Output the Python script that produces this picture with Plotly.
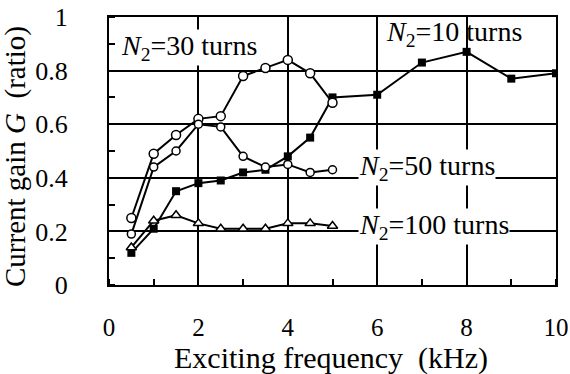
import plotly.graph_objects as go

# Data
freq_short = [0.5, 1, 1.5, 2, 2.5, 3, 3.5, 4, 4.5, 5]
freq_long = [0.5, 1, 1.5, 2, 2.5, 3, 3.5, 4, 4.5, 5, 6, 7, 8, 9, 10]
g_n10 = [0.12, 0.21, 0.35, 0.38, 0.39, 0.42, 0.43, 0.48, 0.55, 0.70, 0.71, 0.83, 0.87, 0.77, 0.79]
g_n30 = [0.25, 0.49, 0.56, 0.62, 0.63, 0.78, 0.81, 0.84, 0.79, 0.68]
g_n50 = [0.19, 0.44, 0.50, 0.60, 0.59, 0.48, 0.44, 0.45, 0.42, 0.43]
g_n100 = [0.14, 0.24, 0.26, 0.23, 0.21, 0.21, 0.21, 0.23, 0.23, 0.22]
x_ticks = [0, 2, 4, 6, 8, 10]
y_ticks = [0, 0.2, 0.4, 0.6, 0.8, 1]
y_tick_text = ["0", "0.2", "0.4", "0.6", "0.8", "1"]
x_title = "Exciting frequency  (kHz)"
y_title = "Current gain <i>G</i>  (ratio)"

FONT = "Liberation Serif, Times New Roman, serif"
fig = go.Figure()

line = dict(color="black", width=2)
fig.add_trace(go.Scatter(x=freq_long, y=g_n10, mode="lines+markers", line=line,
                         marker=dict(symbol="square", size=8, color="black"), showlegend=False))
fig.add_trace(go.Scatter(x=freq_short, y=g_n30, mode="lines+markers", line=line,
                         marker=dict(symbol="circle", size=9, color="white",
                                     line=dict(color="black", width=1.5)), showlegend=False))
fig.add_trace(go.Scatter(x=freq_short, y=g_n50, mode="lines+markers", line=line,
                         marker=dict(symbol="circle", size=8, color="white",
                                     line=dict(color="black", width=1.5)), showlegend=False))
fig.add_trace(go.Scatter(x=freq_short, y=g_n100, mode="lines+markers", line=line,
                         marker=dict(symbol="triangle-up", size=9, color="white",
                                     line=dict(color="black", width=1.5)), showlegend=False))

labels = [
    (0.25, 0.885, "<i>N</i><sub>2</sub>=30 turns", "white"),
    (6.17, 0.94, "<i>N</i><sub>2</sub>=10 turns", "rgba(0,0,0,0)"),
    (5.57, 0.437, "<i>N</i><sub>2</sub>=50 turns", "white"),
    (5.57, 0.22, "<i>N</i><sub>2</sub>=100 turns", "white"),
]
for x, y, t, bg in labels:
    fig.add_annotation(x=x, y=y, xref="x", yref="y", text=t, showarrow=False,
                       xanchor="left", yanchor="middle", bgcolor=bg, borderpad=0,
                       font=dict(family=FONT, size=28, color="black"))

# axis titles
fig.add_annotation(x=0.5, y=0, xref="paper", yref="paper", text=x_title, showarrow=False,
                   xanchor="center", yanchor="middle", xshift=-2, yshift=-73,
                   font=dict(family=FONT, size=30, color="black"))
fig.add_annotation(x=0, y=0.5, xref="paper", yref="paper", text=y_title, showarrow=False,
                   textangle=-90, xanchor="center", yanchor="middle", xshift=-94, yshift=-6,
                   font=dict(family=FONT, size=29, color="black"))

fig.update_layout(
    width=570, height=374,
    margin=dict(l=109, r=14, t=17, b=89),
    plot_bgcolor="white", paper_bgcolor="white",
    font=dict(family=FONT, size=24, color="black"),
)
fig.update_xaxes(
    range=[0, 10], tickvals=x_ticks, ticks="", showgrid=True, automargin=False,
    gridcolor="black", gridwidth=1.5, zeroline=False,
    showline=True, linecolor="black", linewidth=2, mirror=True,
    tickfont=dict(family=FONT, size=25), ticklabelstandoff=19,
    minor=dict(dtick=1, ticks="inside", ticklen=6, tickcolor="black", tickwidth=1.5, showgrid=False),
)
fig.update_yaxes(
    range=[0, 1], tickvals=y_ticks, ticktext=y_tick_text, ticks="", showgrid=True, automargin=False,
    gridcolor="black", gridwidth=1.5, zeroline=False,
    showline=True, linecolor="black", linewidth=2, mirror=True,
    tickfont=dict(family=FONT, size=26), ticklabelstandoff=34,
    minor=dict(dtick=0.1, ticks="inside", ticklen=6, tickcolor="black", tickwidth=1.5, showgrid=False),
)

fig.write_html("out.html")
